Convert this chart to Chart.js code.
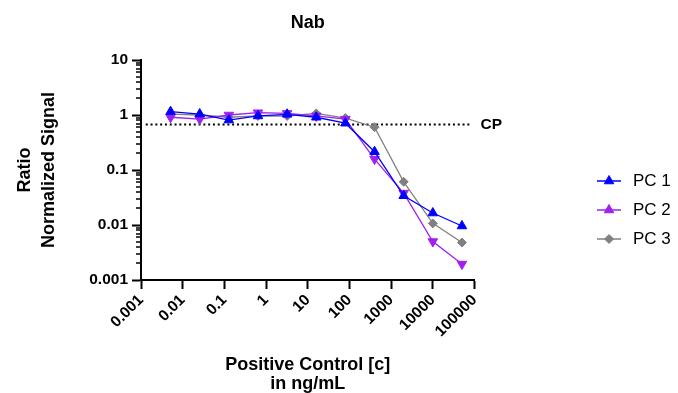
<!DOCTYPE html>
<html>
<head>
<meta charset="utf-8">
<script src="https://cdn.jsdelivr.net/npm/chart.js@4/dist/chart.umd.min.js"></script>
<style>
html,body{margin:0;padding:0;background:#fff;}
#wrap{width:678px;height:393px;}
</style>
</head>
<body>
<div id="wrap"><canvas id="c" width="678" height="393"></canvas></div>
<script>
// ---- data ----
const titleText = 'Nab';
const concentrations = [0.00512, 0.0256, 0.128, 0.64, 3.2, 16, 80, 400, 2000, 10000, 50000];
const pc1 = [1.15, 1.04, 0.81, 0.96, 1.03, 0.91, 0.71, 0.215, 0.034, 0.0165, 0.0096];
const pc2 = [0.91, 0.84, 1.00, 1.10, 1.07, 0.96, 0.84, 0.158, 0.038, 0.0050, 0.00195];
const pc3 = [1.04, 1.00, 0.91, 0.96, 0.96, 1.07, 0.88, 0.60, 0.061, 0.0107, 0.0048];
const seriesNames = ['PC 1', 'PC 2', 'PC 3'];
const xTickValues = [0.001, 0.01, 0.1, 1, 10, 100, 1000, 10000, 100000];
const xTickLabels = ['0.001', '0.01', '0.1', '1', '10', '100', '1000', '10000', '100000'];
const yTickValues = [0.001, 0.01, 0.1, 1, 10];
const yTickLabels = ['0.001', '0.01', '0.1', '1', '10'];
const cpValue = 0.67;
const cpRange = [0.0013, 85000];
const cpLabel = 'CP';
const xTitle = ['Positive Control [c]', 'in ng/mL'];
const yTitle = ['Ratio', 'Normalized Signal'];

// ---- styles ----
const FONT = "'Liberation Sans', Arial, sans-serif";
const colors = ['#0000FF', '#A020F0', '#808080'];
const styles = [
  {pointStyle: 'triangle', rotation: 0, radius: 5.5},
  {pointStyle: 'triangle', rotation: 180, radius: 5.5},
  {pointStyle: 'rectRot', rotation: 0, radius: 4.5}
];

Chart.defaults.font.family = FONT;
Chart.defaults.color = '#000';

function makeIcon(color, st) {
  const c = document.createElement('canvas');
  c.width = 24; c.height = 14;
  const g = c.getContext('2d');
  g.strokeStyle = color; g.fillStyle = color; g.lineWidth = 1.5;
  g.beginPath(); g.moveTo(0, 7); g.lineTo(24, 7); g.stroke();
  const cx = 12, cy = 7, r = st.radius;
  g.beginPath();
  if (st.pointStyle === 'triangle') {
    let a = st.rotation * Math.PI / 180;
    for (let k = 0; k < 3; k++) {
      const px = cx + Math.sin(a) * r, py = cy - Math.cos(a) * r;
      if (k === 0) g.moveTo(px, py); else g.lineTo(px, py);
      a += 2 * Math.PI / 3;
    }
  } else {
    g.moveTo(cx, cy - r); g.lineTo(cx + r, cy); g.lineTo(cx, cy + r); g.lineTo(cx - r, cy);
  }
  g.closePath(); g.fill(); g.lineWidth = 1; g.stroke();
  return c;
}
const icons = colors.map((c, i) => makeIcon(c, styles[i]));

const seriesValues = [pc1, pc2, pc3];
const datasets = seriesValues.map((vals, i) => ({
  label: seriesNames[i],
  data: concentrations.map((c, j) => ({x: c, y: vals[j]})),
  borderColor: colors[i],
  backgroundColor: colors[i],
  borderWidth: 1.3,
  pointStyle: styles[i].pointStyle,
  pointRotation: styles[i].rotation,
  pointRadius: styles[i].radius,
  pointBorderWidth: 1,
  tension: 0
}));
datasets.push({
  label: cpLabel,
  data: cpRange.map(x => ({x: x, y: cpValue})),
  borderColor: '#000',
  borderWidth: 2,
  borderDash: [2, 2.8],
  pointRadius: 0,
  tension: 0
});

const minorTicks = {
  id: 'minorTicks',
  afterDraw(chart) {
    const ys = chart.scales.y;
    const x0 = chart.chartArea.left;
    const ctx = chart.ctx;
    ctx.save();
    ctx.strokeStyle = '#000';
    ctx.lineWidth = 1.5;
    for (let d = 0; d < yTickValues.length - 1; d++) {
      for (let k = 2; k <= 9; k++) {
        const py = Math.round(ys.getPixelForValue(k * yTickValues[d]));
        ctx.beginPath(); ctx.moveTo(x0 - 5, py); ctx.lineTo(x0, py); ctx.stroke();
      }
    }
    ctx.restore();
  }
};

const cpText = {
  id: 'cpText',
  afterDatasetsDraw(chart) {
    const xs = chart.scales.x, ys = chart.scales.y, ctx = chart.ctx;
    ctx.save();
    ctx.font = "bold 15.5px " + FONT;
    ctx.fillStyle = '#000';
    ctx.textAlign = 'left';
    ctx.textBaseline = 'middle';
    ctx.fillText(cpLabel, xs.getPixelForValue(cpRange[1]) + 9, ys.getPixelForValue(cpValue));
    ctx.restore();
  }
};

const tickFont = {family: FONT, size: 15.5, weight: 'bold'};

new Chart(document.getElementById('c'), {
  type: 'line',
  data: {datasets: datasets},
  plugins: [minorTicks, cpText],
  options: {
    responsive: false,
    animation: false,
    layout: {padding: {left: 0, right: -2.8, top: 0, bottom: 0}},
    plugins: {
      tooltip: {enabled: false},
      title: {
        display: true, text: titleText, fullSize: false,
        font: {family: FONT, size: 18, weight: 'bold'}, color: '#000',
        padding: {top: 12, bottom: 26.4}
      },
      legend: {
        position: 'right', align: 'start',
        title: {display: true, text: ' ', font: {size: 10}, padding: {top: 148.5, bottom: 0}},
        labels: {
          usePointStyle: true, pointStyleWidth: 31, padding: 12,
          font: {family: FONT, size: 17}, color: '#000',
          generateLabels(chart) {
            const items = Chart.defaults.plugins.legend.labels.generateLabels(chart);
            return items.filter(it => it.datasetIndex < seriesNames.length).map(it => {
              it.pointStyle = icons[it.datasetIndex];
              it.fontColor = '#000';
              return it;
            });
          }
        }
      }
    },
    scales: {
      x: {
        type: 'logarithmic', position: 'bottom', min: 0.001, max: 100000,
        afterBuildTicks: s => { s.ticks = xTickValues.map(v => ({value: v})); },
        afterFit: s => { s.height = 113; },
        ticks: {
          autoSkip: false, minRotation: 45, maxRotation: 45, padding: 2,
          font: tickFont, color: '#000',
          callback: (v, i) => xTickLabels[i]
        },
        grid: {drawOnChartArea: false, drawTicks: true, tickLength: 9, tickWidth: 2, tickColor: '#000'},
        border: {display: true, color: '#000', width: 2},
        title: {
          display: true, text: xTitle, color: '#000',
          font: {family: FONT, size: 18, weight: 'bold', lineHeight: 1.05},
          padding: {top: 0, bottom: 0}
        }
      },
      y: {
        type: 'logarithmic', position: 'left', min: 0.001, max: 10,
        afterBuildTicks: s => { s.ticks = yTickValues.map(v => ({value: v})); },
        afterFit: s => { s.width = 141; },
        ticks: {
          autoSkip: false, padding: 4, font: tickFont, color: '#000',
          callback: (v, i) => yTickLabels[i]
        },
        grid: {drawOnChartArea: false, drawTicks: true, tickLength: 9, tickWidth: 2, tickColor: '#000'},
        border: {display: true, color: '#000', width: 2},
        title: {
          display: true, text: yTitle, color: '#000',
          font: {family: FONT, size: 18, weight: 'bold', lineHeight: 1.3},
          padding: {top: 13.8, bottom: 0}
        }
      },
      gap: {
        type: 'linear', position: 'right', display: true,
        afterFit: s => { s.width = 107; },
        ticks: {display: false},
        grid: {display: false, drawTicks: false},
        border: {display: false},
        title: {display: false}
      }
    }
  }
});
</script>
</body>
</html>
